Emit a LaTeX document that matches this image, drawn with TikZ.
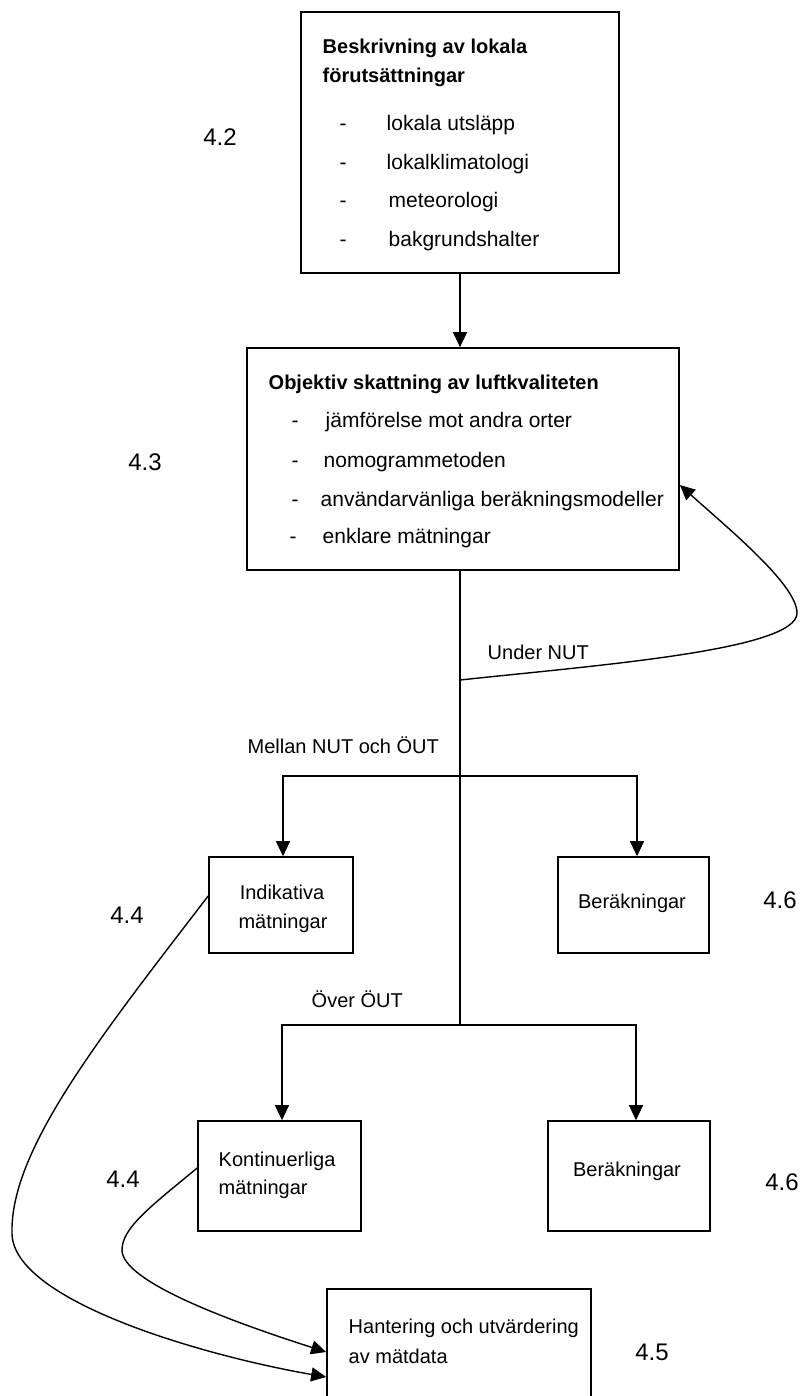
\documentclass[tikz,border=0pt]{standalone}
\usepackage{fontspec}
\setmainfont{Liberation Sans}
\usetikzlibrary{arrows.meta}
\begin{document}
\begin{tikzpicture}[x=1pt,y=-1pt,line width=1.4pt,
  box/.style={draw,rectangle,inner sep=0pt,line width=1.7pt},
  arr/.style={-{Triangle[length=15pt,width=14pt]}},
  itemt/.style={inner sep=0pt,anchor=base west,font=\fontsize{21}{25}\selectfont},
  boldt/.style={inner sep=0pt,anchor=base west,font=\fontsize{20}{24}\selectfont\bfseries},
  lab/.style={inner sep=0pt,anchor=base west,font=\fontsize{20}{24}\selectfont},
  clab/.style={inner sep=0pt,anchor=base,font=\fontsize{20}{24}\selectfont},
  num/.style={inner sep=0pt,anchor=center,font=\fontsize{24}{28}\selectfont}]
\path[use as bounding box] (0,0) rectangle (801,1396);
\clip (0,0) rectangle (801,1396);

% boxes
\node[box,minimum width=318pt,minimum height=261pt] (b1) at (460,142.5) {};
\node[box,minimum width=432pt,minimum height=222pt] (b2) at (463,459) {};
\node[box,minimum width=144pt,minimum height=96pt] (b3) at (281,905) {};
\node[box,minimum width=151pt,minimum height=96pt] (b4) at (633.5,905) {};
\node[box,minimum width=163pt,minimum height=110pt] (b5) at (279.5,1176) {};
\node[box,minimum width=162pt,minimum height=110pt] (b6) at (629,1176) {};
\node[box,minimum width=264pt,minimum height=130pt] (b7) at (459,1354) {};

% texts top box
\node[boldt] (t1a) at (322,54) {Beskrivning av lokala};
\node[boldt] (t1b) at (322,83) {förutsättningar};
\node[itemt] (d11) at (339,131) {-};
\node[itemt] (d12) at (339,170) {-};
\node[itemt] (d13) at (339,208) {-};
\node[itemt] (d14) at (339,247) {-};
\node[itemt] (i11) at (386,131) {lokala utsläpp};
\node[itemt] (i12) at (386,170) {lokalklimatologi};
\node[itemt] (i13) at (388,208) {meteorologi};
\node[itemt] (i14) at (388,247) {bakgrundshalter};

% texts second box
\node[boldt] (t2) at (268,389) {Objektiv skattning av luftkvaliteten};
\node[itemt] (d21) at (291,427) {-};
\node[itemt] (d22) at (291,467) {-};
\node[itemt] (d23) at (291,506) {-};
\node[itemt] (d24) at (289,543) {-};
\node[itemt] (i21) at (325,427) {jämförelse mot andra orter};
\node[itemt] (i22) at (323,467) {nomogrammetoden};
\node[itemt] (i23) at (320,506) {användarvänliga beräkningsmodeller};
\node[itemt] (i24) at (322,543) {enklare mätningar};

% small boxes texts
\node[clab] (t3a) at (282,899) {Indikativa};
\node[clab] (t3b) at (283,928) {mätningar};
\node[clab] (t4) at (632,908) {Beräkningar};
\node[lab] (t5a) at (218,1166) {Kontinuerliga};
\node[lab] (t5b) at (218,1194) {mätningar};
\node[clab] (t6) at (627,1176) {Beräkningar};
\node[lab] (t7a) at (348,1333) {Hantering och utvärdering};
\node[lab] (t7b) at (348,1363) {av mätdata};

% branch labels
\node[lab] (lu) at (487,659) {Under NUT};
\node[lab] (lm) at (247,753) {Mellan NUT och ÖUT};
\node[lab] (lo) at (311,1007) {Över ÖUT};

% section numbers
\node[num] (n42) at (220,137) {4.2};
\node[num] (n43) at (145,462) {4.3};
\node[num] (n44a) at (127,915) {4.4};
\node[num] (n46a) at (780,900) {4.6};
\node[num] (n44b) at (123,1179) {4.4};
\node[num] (n46b) at (782,1182) {4.6};
\node[num] (n45) at (652,1352) {4.5};

% junctions
\coordinate (ju) at (460,680);
\coordinate (j1) at (460,776);
\coordinate (j2) at (460,1025);
\coordinate (uR) at (797,613);
\coordinate (iL) at (12,1233);
\coordinate (kL) at (122,1250);

% connectors
\draw[arr] (b1.south) -- (b1.south |- b2.north);
\draw (b2.south -| j1) -- (j2);
\draw[arr] (j1) -| ([xshift=2pt]b3.north);
\draw[arr] (j1) -| ([xshift=3.5pt]b4.north);
\draw[arr] (j2) -| ([xshift=2.5pt]b5.north);
\draw[arr] (j2) -| ([xshift=7pt]b6.north);
\draw[arr] (ju) .. controls (600,665) and (797,650) .. (uR)
  .. controls (797,585) and (730,530) .. ([yshift=-26pt]b2.east);
\draw[arr] ([yshift=9pt]b3.west) .. controls (100,1037) and (10,1150) .. (iL)
  .. controls (12,1300) and (200,1355) .. ([yshift=-23pt]b7.west);
\draw[arr] ([yshift=8pt]b5.west) .. controls (150,1207) and (122,1228) .. (kL)
  .. controls (122,1280) and (220,1318) .. ([yshift=2pt]b7.west);
\end{tikzpicture}
\end{document}
